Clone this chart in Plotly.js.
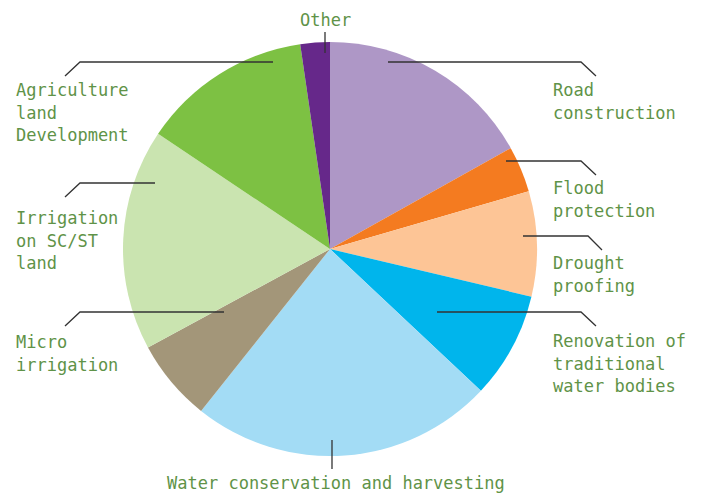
<!DOCTYPE html>
<html><head><meta charset="utf-8">
<script src="https://cdn.plot.ly/plotly-3.0.1.min.js"></script>
<style>html,body{margin:0;padding:0;background:#fff}</style>
</head><body><div id="chart" style="width:702px;height:494px"></div>
<script>
const categories = ["Road construction","Flood protection","Drought proofing","Renovation of traditional water bodies","Water conservation and harvesting","Micro irrigation","Irrigation on SC/ST land","Agriculture land Development","Other"];
const shares = [16.9, 3.6, 8.2, 8.3, 23.7, 6.4, 17.3, 13.3, 2.3];
const colors = ["#ae97c6","#f47b20","#fdc596","#00b5ec","#a3dcf5","#a39679","#cae4b0","#7dc143","#66288a"];
const labelLines = [["Road","construction"],["Flood","protection"],["Drought","proofing"],["Renovation of","traditional","water bodies"],["Water conservation and harvesting"],["Micro","irrigation"],["Irrigation","on SC/ST","land"],["Agriculture","land","Development"],["Other"]];

const W=702,H=494;
const px=x=>x/W, py=y=>1-y/H;
const cx=330, cy=249, r=207;

// label layout: [x, first line center y, xanchor]
const labelPos = [[551,90,'left'],[551,188,'left'],[551,263,'left'],[551,341,'left'],[336,483,'center'],[14,342,'left'],[14,218,'left'],[14,90,'left'],[325,20,'center']];
const lineGap = 22.7;
// leader line paths in pixels
const leaders = [
 [[388,62],[581,62],[596,76]],
 [[506,161],[581,161],[596,175]],
 [[523,236],[588,236],[602,250]],
 [[437,312],[581,312],[596,326]],
 [[332,440],[332,469]],
 [[224,312],[80,312],[65,326]],
 [[155,183],[80,183],[65,197]],
 [[273,62],[80,62],[65,76]],
 [[325,32],[325,53]]
];
const shapes = leaders.map(pts=>({type:'path', xref:'paper', yref:'paper',
  path: pts.map((p,i)=>(i?'L':'M')+px(p[0]).toFixed(5)+','+py(p[1]).toFixed(5)).join(' '),
  line:{color:'#333333', width:1.3}}));
const annotations = [];
labelLines.forEach((lines,i)=>{
  lines.forEach((t,j)=>annotations.push({text:t, xref:'paper', yref:'paper',
    x:px(labelPos[i][0]), y:py(labelPos[i][1]+j*lineGap), xanchor:labelPos[i][2], yanchor:'middle',
    showarrow:false, font:{family:'DejaVu Sans Mono, monospace', size:17, color:'#5f9348'}}));
});

Plotly.newPlot('chart',[{
  type:'pie', values:shares, labels:categories, sort:false, direction:'clockwise', rotation:0,
  marker:{colors:colors, line:{width:0}}, textinfo:'none', hoverinfo:'label+percent',
  domain:{x:[px(cx-r), px(cx+r)], y:[py(cy+r), py(cy-r)]}
}],{
  width:W, height:H, margin:{l:0,r:0,t:0,b:0}, showlegend:false,
  paper_bgcolor:'#fff', plot_bgcolor:'#fff', shapes:shapes, annotations:annotations
},{displayModeBar:false});
</script></body></html>
